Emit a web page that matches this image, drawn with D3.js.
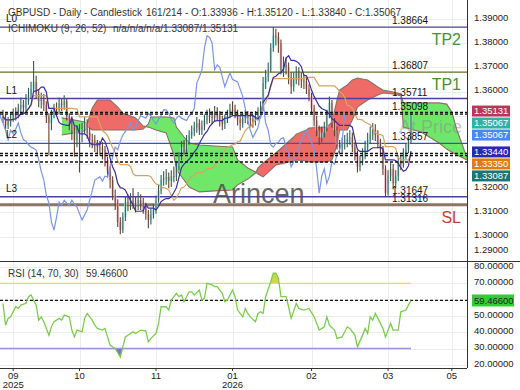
<!DOCTYPE html>
<html>
<head>
<meta charset="utf-8">
<title>GBPUSD Daily - Ichimoku</title>
<script src="https://d3js.org/d3.v7.min.js"></script>
<style>
body { margin: 0; background: #fff; }
svg { display: block; font-family: "Liberation Sans", Arial, sans-serif; }
.tick-label { font-size: 9.5px; fill: #222; }
.box-label { font-size: 9.5px; fill: #fff; }
.header { font-size: 10px; fill: #333; }
.lvl-label { font-size: 10px; fill: #111; }
</style>
</head>
<body>
<script>

// ---- daily bars (open = previous close) ----
var firstOpen = 1.3500;
var closes = [
  1.3490, 1.3460, 1.3475, 1.3485, 1.3510, 1.3500, 1.3530, 1.3545, 1.3535, 1.3560,
  1.3585, 1.3610, 1.3640, 1.3590, 1.3560, 1.3570, 1.3545, 1.3495, 1.3470, 1.3505,
  1.3530, 1.3525, 1.3550, 1.3545, 1.3560, 1.3495, 1.3470, 1.3440, 1.3400, 1.3440,
  1.3425, 1.3445, 1.3470, 1.3430, 1.3400, 1.3395, 1.3380, 1.3370, 1.3365, 1.3358,
  1.3317, 1.3270, 1.3234, 1.3170, 1.3140, 1.3060, 1.3027, 1.3081, 1.3143, 1.3130,
  1.3150, 1.3139, 1.3130, 1.3151, 1.3135, 1.3122, 1.3095, 1.3069, 1.3090, 1.3110,
  1.3151, 1.3190, 1.3234, 1.3240, 1.3247, 1.3230, 1.3250, 1.3247, 1.3290, 1.3330,
  1.3370, 1.3360, 1.3395, 1.3420, 1.3435, 1.3450, 1.3470, 1.3440, 1.3455, 1.3480,
  1.3500, 1.3495, 1.3490, 1.3510, 1.3500, 1.3480, 1.3465, 1.3485, 1.3500, 1.3525,
  1.3524, 1.3510, 1.3485, 1.3470, 1.3490, 1.3500, 1.3490, 1.3485, 1.3480, 1.3500,
  1.3510, 1.3530, 1.3635, 1.3660, 1.3690, 1.3780, 1.3830, 1.3825, 1.3800, 1.3690,
  1.3710, 1.3700, 1.3660, 1.3620, 1.3650, 1.3677, 1.3650, 1.3645, 1.3640, 1.3610,
  1.3580, 1.3530, 1.3480, 1.3440, 1.3410, 1.3430, 1.3450, 1.3500, 1.3553, 1.3470,
  1.3440, 1.3380, 1.3370, 1.3385, 1.3390, 1.3405, 1.3410, 1.3370, 1.3340, 1.3288,
  1.3310, 1.3340, 1.3370, 1.3400, 1.3420, 1.3440, 1.3420, 1.3390, 1.3360, 1.3280,
  1.3180, 1.3250, 1.3280, 1.3220, 1.3250, 1.3310, 1.3300, 1.3340, 1.3360, 1.33936,
  1.35067
];
var highs = [
  1.3525, 1.3505, 1.3495, 1.3510, 1.3530, 1.3535, 1.3550, 1.3575, 1.3565, 1.3590,
  1.3615, 1.3640, 1.3726, 1.3665, 1.3610, 1.3595, 1.3590, 1.3560, 1.3510, 1.3525,
  1.3550, 1.3555, 1.3575, 1.3570, 1.3585, 1.3570, 1.3510, 1.3490, 1.3455, 1.3460,
  1.3465, 1.3470, 1.3495, 1.3485, 1.3450, 1.3425, 1.3420, 1.3400, 1.3395, 1.3390,
  1.3375, 1.3330, 1.3290, 1.3250, 1.3195, 1.3155, 1.3080, 1.3100, 1.3165, 1.3175,
  1.3180, 1.3200, 1.3165, 1.3185, 1.3175, 1.3160, 1.3140, 1.3110, 1.3115, 1.3135,
  1.3170, 1.3215, 1.3255, 1.3270, 1.3280, 1.3265, 1.3275, 1.3290, 1.3310, 1.3350,
  1.3395, 1.3400, 1.3420, 1.3440, 1.3460, 1.3475, 1.3495, 1.3485, 1.3480, 1.3505,
  1.3525, 1.3530, 1.3520, 1.3540, 1.3535, 1.3520, 1.3500, 1.3505, 1.3525, 1.3550,
  1.3560, 1.3545, 1.3525, 1.3500, 1.3510, 1.3525, 1.3520, 1.3510, 1.3505, 1.3520,
  1.3535, 1.3560, 1.3660, 1.3690, 1.3720, 1.3800, 1.3867, 1.3860, 1.3845, 1.3815,
  1.3745, 1.3740, 1.3720, 1.3680, 1.3680, 1.3705, 1.3700, 1.3680, 1.3670, 1.3660,
  1.3630, 1.3595, 1.3545, 1.3500, 1.3460, 1.3455, 1.3475, 1.3525, 1.3580, 1.3565,
  1.3490, 1.3455, 1.3400, 1.3410, 1.3420, 1.3430, 1.3440, 1.3430, 1.3390, 1.3355,
  1.3335, 1.3365, 1.3395, 1.3430, 1.3455, 1.3470, 1.3465, 1.3440, 1.3405, 1.3375,
  1.3295, 1.3275, 1.3305, 1.3300, 1.3275, 1.3335, 1.3340, 1.3365, 1.3385, 1.3415,
  1.35120
];
var lows = [
  1.3470, 1.3440, 1.3445, 1.3455, 1.3475, 1.3480, 1.3490, 1.3515, 1.3510, 1.3520,
  1.3545, 1.3570, 1.3600, 1.3570, 1.3535, 1.3530, 1.3520, 1.3470, 1.3335, 1.3440,
  1.3490, 1.3500, 1.3505, 1.3520, 1.3525, 1.3480, 1.3440, 1.3400, 1.3330, 1.3370,
  1.3265, 1.3390, 1.3425, 1.3405, 1.3370, 1.3365, 1.3350, 1.3340, 1.3335, 1.3320,
  1.3290, 1.3245, 1.3200, 1.3150, 1.3110, 1.3040, 1.3010, 1.3015, 1.3065, 1.3105,
  1.3110, 1.3115, 1.3100, 1.3110, 1.3110, 1.3095, 1.3070, 1.3035, 1.3050, 1.3075,
  1.3095, 1.3140, 1.3175, 1.3210, 1.3215, 1.3200, 1.3205, 1.3225, 1.3230, 1.3275,
  1.3315, 1.3340, 1.3345, 1.3380, 1.3405, 1.3415, 1.3430, 1.3420, 1.3420, 1.3440,
  1.3465, 1.3470, 1.3465, 1.3475, 1.3480, 1.3455, 1.3440, 1.3445, 1.3470, 1.3490,
  1.3500, 1.3490, 1.3460, 1.3440, 1.3450, 1.3470, 1.3465, 1.3455, 1.3450, 1.3460,
  1.3480, 1.3490, 1.3520, 1.3610, 1.3640, 1.3680, 1.3765, 1.3790, 1.3760, 1.3670,
  1.3660, 1.3670, 1.3630, 1.3590, 1.3600, 1.3630, 1.3625, 1.3615, 1.3610, 1.3590,
  1.3560, 1.3505, 1.3455, 1.3415, 1.3380, 1.3390, 1.3410, 1.3435, 1.3490, 1.3450,
  1.3415, 1.3360, 1.3340, 1.3345, 1.3360, 1.3370, 1.3380, 1.3350, 1.3315, 1.3265,
  1.3270, 1.3295, 1.3320, 1.3350, 1.3385, 1.3400, 1.3395, 1.3365, 1.3330, 1.3255,
  1.3165, 1.3170, 1.3230, 1.3195, 1.3200, 1.3230, 1.3275, 1.3285, 1.3320, 1.3345,
  1.33840
];

// ---- Ichimoku cloud (leading spans at these bar positions) ----
var cloudIdx = [23, 28, 32, 33, 35, 37, 42, 45, 47, 52, 55, 57, 58, 60, 64, 67, 68, 71, 73, 77,
                83, 90, 92, 96, 99, 100, 102, 107, 114, 115, 119, 120, 127, 129, 131, 132, 135, 137, 139, 143,
                147, 149, 153, 156, 157, 164, 171, 174, 176, 178, 182, 186];
var spanA = [1.3491, 1.3482, 1.3474, 1.3457, 1.3441, 1.3441, 1.3441, 1.3441, 1.3441, 1.3441,
             1.3445, 1.3466, 1.3495, 1.3495, 1.3495, 1.3491, 1.3453, 1.3412, 1.3387, 1.3379,
             1.3375, 1.3371, 1.3317, 1.3284, 1.3267, 1.3259, 1.3247, 1.3296, 1.3313, 1.3317,
             1.3313, 1.3309, 1.3309, 1.3317, 1.3379, 1.3441, 1.3441, 1.3482, 1.3536, 1.3565,
             1.3586, 1.3594, 1.3590, 1.3586, 1.3553, 1.3553, 1.3553, 1.3548, 1.3515, 1.3441,
             1.3325, 1.3276];
var spanB = [1.3420, 1.3429, 1.3437, 1.3466, 1.3532, 1.3565, 1.3565, 1.3536, 1.3511, 1.3491,
             1.3457, 1.3453, 1.3449, 1.3441, 1.3429, 1.3338, 1.3276, 1.3234, 1.3205, 1.3185,
             1.3189, 1.3193, 1.3214, 1.3238, 1.3263, 1.3284, 1.3304, 1.3346, 1.3412, 1.3424,
             1.3441, 1.3449, 1.3453, 1.3474, 1.3565, 1.3606, 1.3627, 1.3648, 1.3656, 1.3648,
             1.3619, 1.3606, 1.3598, 1.3590, 1.3453, 1.3433, 1.3387, 1.3362, 1.3350, 1.3338,
             1.3317, 1.3300];

// ---- RSI (14) ----
var rsiIdx = [0, 1, 2, 3, 5, 6, 7, 9, 10, 11, 13, 14, 15, 16, 18, 19, 20, 22, 23, 24,
              26, 27, 28, 29, 31, 32, 33, 35, 36, 37, 39, 40, 41, 42, 44, 46, 47, 48, 50, 51,
              52, 54, 56, 57, 58, 60, 61, 62, 64, 65, 66, 68, 69, 70, 71, 73, 74, 75, 77, 78,
              79, 80, 82, 83, 84, 86, 87, 88, 90, 91, 92, 94, 95, 96, 97, 99, 100, 101, 102, 103,
              105, 106, 107, 108, 109, 111, 112, 113, 115, 116, 118, 120, 122, 124, 126, 127, 128, 130, 131, 133,
              135, 136, 138, 139, 141, 142, 143, 144, 145, 146, 147, 149, 150, 152, 153, 155, 156, 158, 159, 160];
var rsiVals = [57.7, 44.3, 48.5, 49.4, 55.6, 54.6, 56.6, 57.7, 61.8, 62.8, 56.6, 47.4, 49.4, 46.4, 38.2, 43.3, 46.4, 48.5, 47.4, 50.5,
               49.4, 41.3, 37.1, 41.3, 40.2, 48.5, 51.5, 47.4, 44.3, 42.3, 41.3, 42.3, 37.1, 32.0, 30.0, 24.8, 31.0, 37.1, 39.2, 40.2,
               39.2, 41.3, 40.8, 34.1, 36.2, 39.2, 45.4, 55.6, 55.6, 53.6, 59.7, 63.8, 61.8, 62.8, 58.7, 64.8, 64.8, 62.8, 65.9, 59.7,
               60.8, 70.0, 69.0, 67.9, 67.9, 63.8, 58.7, 59.7, 65.9, 61.8, 53.6, 49.4, 54.6, 51.5, 49.4, 46.4, 51.5, 52.5, 51.5, 61.8,
               71.0, 76.2, 76.2, 73.1, 61.8, 61.8, 55.6, 48.5, 57.7, 54.6, 53.6, 54.6, 49.4, 41.3, 43.3, 49.4, 44.3, 41.3, 36.2, 37.1,
               43.3, 42.3, 38.2, 31.0, 38.2, 42.3, 39.2, 49.4, 47.4, 51.5, 48.5, 42.3, 37.1, 45.4, 41.3, 41.3, 52.5, 53.6, 56.6, 59.466];

// ---- levels and labels ----
var levelValues = [1.38664, 1.36807, 1.35711, 1.35098, 1.33857, 1.31647, 1.31316];
var levelTags = ["L0", "", "L1", "", "L2", "L3", ""];
var zoneNames = ["TP2", "TP1", "SL"];
var zoneLevels = [1.38664, 1.36807, 1.31316];
var lastValues = [1.35131, 1.35067, 1.35067, 1.33440, 1.33350, 1.33087];
var rsiLast = 59.466;

var priceTicks = [1.29, 1.30, 1.31, 1.32, 1.33, 1.34, 1.35, 1.36, 1.37, 1.38, 1.39, 1.40];
var rsiTicks = [20, 30, 40, 50, 60, 70, 80];
var xTickIdx = [4, 30, 60, 90, 121, 151, 176];
var xTickMonths = ["09", "10", "11", "01", "02", "03", "05"];
var xTickYears = ["2025", "", "", "2026", "", "", ""];

// ---- layout ----
var W = 520, H = 390;
var plotR = 467, mainBot = 261, rsiBot = 368;

var svg = d3.select("body").append("svg")
    .attr("width", W)
    .attr("height", H);

var x = d3.scaleLinear().domain([0, closes.length - 1]).range([3, 411]);
var y = d3.scaleLinear().domain([1.29, 1.39]).range([260.8, 19]);
var yr = d3.scaleLinear().domain([30, 70]).range([348.5, 283.3]);

var defs = svg.append("defs");
defs.append("clipPath").attr("id", "clip-main")
    .append("rect").attr("x", 0).attr("y", 0).attr("width", plotR).attr("height", mainBot);
defs.append("clipPath").attr("id", "clip-rsi")
    .append("rect").attr("x", 0).attr("y", mainBot).attr("width", plotR).attr("height", rsiBot - mainBot);

// grid
var grid = svg.append("g").attr("stroke", "#ececec").attr("stroke-width", 1);
grid.selectAll(".hg").data(priceTicks.filter(function(t) { return y(t) > 0 && y(t) < mainBot; }))
    .enter().append("line")
    .attr("x1", 0).attr("x2", plotR)
    .attr("y1", function(d) { return Math.round(y(d)) + 0.5; })
    .attr("y2", function(d) { return Math.round(y(d)) + 0.5; });
grid.selectAll(".rg").data(rsiTicks)
    .enter().append("line")
    .attr("x1", 0).attr("x2", plotR)
    .attr("y1", function(d) { return Math.round(yr(d)) + 0.5; })
    .attr("y2", function(d) { return Math.round(yr(d)) + 0.5; });
grid.selectAll(".vg").data(xTickIdx)
    .enter().append("line")
    .attr("y1", 0).attr("y2", rsiBot)
    .attr("x1", function(d) { return Math.round(x(d)) + 0.5; })
    .attr("x2", function(d) { return Math.round(x(d)) + 0.5; });

// ---- main panel ----
var main = svg.append("g").attr("clip-path", "url(#clip-main)");

// cloud
var cloud = cloudIdx.map(function(i, k) { return {i: i, a: spanA[k], b: spanB[k]}; });
defs.append("clipPath").attr("id", "clip-up")
    .append("path")
    .attr("d", d3.area().x(function(d) { return x(d.i); }).y0(-50).y1(function(d) { return y(d.b); })(cloud));
defs.append("clipPath").attr("id", "clip-dn")
    .append("path")
    .attr("d", d3.area().x(function(d) { return x(d.i); }).y0(function(d) { return y(d.b); }).y1(400)(cloud));

var between = d3.area()
    .x(function(d) { return x(d.i); })
    .y0(function(d) { return y(d.a); })
    .y1(function(d) { return y(d.b); });

main.append("g").attr("clip-path", "url(#clip-up)")
    .append("path").datum(cloud).attr("d", between).attr("fill", "#6fe86a");
main.append("g").attr("clip-path", "url(#clip-dn)")
    .append("path").datum(cloud).attr("d", between).attr("fill", "#ef6b68");

["a", "b"].forEach(function(k) {
    main.append("path").datum(cloud)
        .attr("fill", "none")
        .attr("stroke", "#857163")
        .attr("stroke-width", 1.1)
        .attr("d", d3.line().x(function(d) { return x(d.i); }).y(function(d) { return y(d[k]); }));
});

// horizontal levels
var levelColors = ["#4b3fa6", "#5f7320", "#4b3fa6", null, "#3553c8", "#4b3fa6", "#8d7266"];
var levelWidths = [1.4, 1.2, 1.4, 0, 1.4, 1.4, 3];
levelValues.forEach(function(v, k) {
    if (!levelColors[k]) return;
    main.append("line")
        .attr("x1", 0).attr("x2", plotR)
        .attr("y1", y(v)).attr("y2", y(v))
        .attr("stroke", levelColors[k])
        .attr("stroke-width", levelWidths[k]);
});

// candles
var bars = closes.map(function(c, i) {
    return {i: i, o: i === 0 ? firstOpen : closes[i - 1], h: highs[i], l: lows[i], c: c};
});
var candles = main.append("g").selectAll(".candle")
    .data(bars)
    .enter().append("g")
    .attr("class", "candle");
candles.append("rect")
    .attr("x", function(d) { return x(d.i) - 1.3; })
    .attr("width", 2.6)
    .attr("y", function(d) { return y(Math.max(d.o, d.c)); })
    .attr("height", function(d) { return Math.max(1, Math.abs(y(d.o) - y(d.c))); })
    .attr("fill", function(d) { return d.c >= d.o ? "#a9eeea" : "#f7b9c8"; })
    .attr("opacity", 0.9);
candles.append("line")
    .attr("x1", function(d) { return x(d.i); })
    .attr("x2", function(d) { return x(d.i); })
    .attr("y1", function(d) { return y(d.h); })
    .attr("y2", function(d) { return y(d.l); })
    .attr("stroke", function(d) { return d.c >= d.o ? "#345c55" : "#62402f"; })
    .attr("stroke-width", 1.1);

// tenkan / kijun from the bars
function midRange(n) {
    return closes.map(function(c, i) {
        var s = Math.max(0, i - n + 1);
        return (d3.max(highs.slice(s, i + 1)) + d3.min(lows.slice(s, i + 1))) / 2;
    });
}
var tenkan = midRange(9), kijun = midRange(26);
var valLine = d3.line().x(function(d, i) { return x(i); }).y(function(d) { return y(d); });

main.append("path").datum(kijun)
    .attr("fill", "none").attr("stroke", "#d3a565").attr("stroke-width", 1.2).attr("d", valLine);
main.append("path").datum(tenkan)
    .attr("fill", "none").attr("stroke", "#3a2f9e").attr("stroke-width", 1.2).attr("d", valLine);
// chikou: close shifted back 26 bars
main.append("path").datum(closes)
    .attr("fill", "none").attr("stroke", "#7b95e6").attr("stroke-width", 1.2)
    .attr("d", d3.line().x(function(d, i) { return x(i - 26); }).y(function(d) { return y(d); }));

// dashed last-value lines
Array.from(new Set(lastValues)).forEach(function(v) {
    main.append("line")
        .attr("x1", 0).attr("x2", plotR)
        .attr("y1", y(v)).attr("y2", y(v))
        .attr("stroke", "#111")
        .attr("stroke-width", 1.4)
        .attr("stroke-dasharray", "3,2");
});

// watermarks
main.append("text")
    .attr("x", 399).attr("y", 133)
    .attr("font-size", 18).attr("fill", "#888").attr("opacity", 0.45)
    .text("At Price");
main.append("text")
    .attr("x", 213).attr("y", 203)
    .attr("font-size", 27).attr("fill", "#4d4d4d").attr("opacity", 0.85)
    .text("Arincen");

// level texts
levelValues.forEach(function(v, k) {
    main.append("text").attr("class", "lvl-label")
        .attr("x", 392).attr("y", y(v) - 3)
        .text(d3.format(".5f")(v));
    if (levelTags[k]) {
        main.append("text").attr("class", "lvl-label")
            .attr("x", 6).attr("y", y(v) - 5)
            .text(levelTags[k]);
    }
});
zoneNames.forEach(function(name, k) {
    main.append("text")
        .attr("x", 461).attr("y", y(zoneLevels[k]) + 18)
        .attr("text-anchor", "end")
        .attr("font-size", 16)
        .attr("fill", name === "SL" ? "#c4412f" : "#4a8f35")
        .text(name);
});

// headers
svg.append("text").attr("class", "header").attr("x", 8).attr("y", 16)
    .text("GBPUSD - Daily - Candlestick");
svg.append("text").attr("class", "header").attr("x", 146).attr("y", 16)
    .text("161/214 - O:1.33936 - H:1.35120 - L:1.33840 - C:1.35067");
svg.append("text").attr("class", "header").attr("x", 8).attr("y", 32)
    .text("ICHIMOKU (9, 26, 52)");
svg.append("text").attr("class", "header").attr("x", 113).attr("y", 32)
    .text("n/a/n/a/n/a/" + lastValues[5].toFixed(5) + "/" + lastValues[0].toFixed(5));

// ---- RSI panel ----
var rsi = rsiIdx.map(function(i, k) { return {i: i, v: rsiVals[k]}; });
var rp = svg.append("g").attr("clip-path", "url(#clip-rsi)");

defs.append("clipPath").attr("id", "clip-ob")
    .append("rect").attr("x", 0).attr("y", mainBot).attr("width", plotR).attr("height", yr(70) - mainBot);
defs.append("clipPath").attr("id", "clip-os")
    .append("rect").attr("x", 0).attr("y", yr(30)).attr("width", plotR).attr("height", rsiBot - yr(30));

rp.append("g").attr("clip-path", "url(#clip-ob)")
    .append("path").datum(rsi).attr("fill", "#cfd64a")
    .attr("d", d3.area().x(function(d) { return x(d.i); }).y0(yr(70)).y1(function(d) { return yr(d.v); }));
rp.append("g").attr("clip-path", "url(#clip-os)")
    .append("path").datum(rsi).attr("fill", "#7a6fd6")
    .attr("d", d3.area().x(function(d) { return x(d.i); }).y0(yr(30)).y1(function(d) { return yr(d.v); }));

rp.append("line").attr("x1", 0).attr("x2", x(closes.length - 1))
    .attr("y1", yr(70)).attr("y2", yr(70)).attr("stroke", "#eed27a").attr("stroke-width", 1.3);
rp.append("line").attr("x1", 0).attr("x2", x(closes.length - 1))
    .attr("y1", yr(30)).attr("y2", yr(30)).attr("stroke", "#9d8fe6").attr("stroke-width", 1.3);
rp.append("line").attr("x1", 0).attr("x2", plotR)
    .attr("y1", yr(rsiLast)).attr("y2", yr(rsiLast))
    .attr("stroke", "#111").attr("stroke-width", 1.2).attr("stroke-dasharray", "3,2");

rp.append("path").datum(rsi)
    .attr("fill", "none").attr("stroke", "#7ccb4e").attr("stroke-width", 1.3)
    .attr("d", d3.line().x(function(d) { return x(d.i); }).y(function(d) { return yr(d.v); }));

svg.append("text").attr("class", "header").attr("x", 8).attr("y", 277)
    .text("RSI (14, 70, 30)");
svg.append("text").attr("class", "header").attr("x", 86).attr("y", 277)
    .text(rsiLast.toFixed(5));

// ---- frame ----
svg.append("line").attr("x1", 0).attr("x2", W).attr("y1", mainBot + 0.5).attr("y2", mainBot + 0.5)
    .attr("stroke", "#333");
svg.append("line").attr("x1", plotR + 0.5).attr("x2", plotR + 0.5).attr("y1", 0).attr("y2", rsiBot)
    .attr("stroke", "#333");
svg.append("line").attr("x1", 0).attr("x2", plotR).attr("y1", rsiBot + 0.5).attr("y2", rsiBot + 0.5)
    .attr("stroke", "#333");

// ---- right axis: value boxes, then price ticks that do not collide ----
var boxColors = ["#b5385a", "#35b0a5", "#4b87f2", "#2b27b5", "#e07b12", "#1e7474"];
var boxY = [];
lastValues.forEach(function(v, k) {
    var p = y(v) - 1.5;
    if (k > 0 && p < boxY[k - 1] + 12) p = boxY[k - 1] + 12;
    boxY.push(p);
});
var right = svg.append("g");
priceTicks.forEach(function(t) {
    var p = y(t) - 1.5;
    if (p > mainBot - 11) p = mainBot - 11;
    if (boxY.some(function(b) { return Math.abs(b - p) < 10; })) return;
    right.append("text").attr("class", "tick-label")
        .attr("x", 474).attr("y", p).attr("dy", "0.35em")
        .text(d3.format(".5f")(t));
});
lastValues.forEach(function(v, k) {
    right.append("rect").attr("x", 472).attr("y", boxY[k] - 5.5)
        .attr("width", 38).attr("height", 11).attr("fill", boxColors[k]);
    right.append("text").attr("class", "box-label")
        .attr("x", 474).attr("y", boxY[k]).attr("dy", "0.35em")
        .text(d3.format(".5f")(v));
});

var rsiBoxY = yr(rsiLast);
rsiTicks.forEach(function(t) {
    var p = yr(t) - 1.5;
    if (Math.abs(p - rsiBoxY) < 10) return;
    right.append("text").attr("class", "tick-label")
        .attr("x", 474).attr("y", p).attr("dy", "0.35em")
        .text(d3.format(".5f")(t));
});
right.append("rect").attr("x", 472).attr("y", rsiBoxY - 6)
    .attr("width", 42).attr("height", 12).attr("fill", "#2fcf2f");
right.append("text").attr("class", "tick-label")
    .attr("x", 474).attr("y", rsiBoxY).attr("dy", "0.35em")
    .text(d3.format(".5f")(rsiLast));

// ---- bottom axis ----
var xa = svg.append("g");
xTickIdx.forEach(function(i, k) {
    xa.append("line").attr("x1", x(i)).attr("x2", x(i)).attr("y1", rsiBot).attr("y2", rsiBot + 3)
        .attr("stroke", "#333");
    xa.append("text").attr("class", "tick-label")
        .attr("x", x(i)).attr("y", 379).attr("text-anchor", "middle")
        .text(xTickMonths[k]);
    if (xTickYears[k]) {
        xa.append("text").attr("class", "tick-label")
            .attr("x", x(i)).attr("y", 388).attr("text-anchor", "middle")
            .text(xTickYears[k]);
    }
});

</script>
</body>
</html>
